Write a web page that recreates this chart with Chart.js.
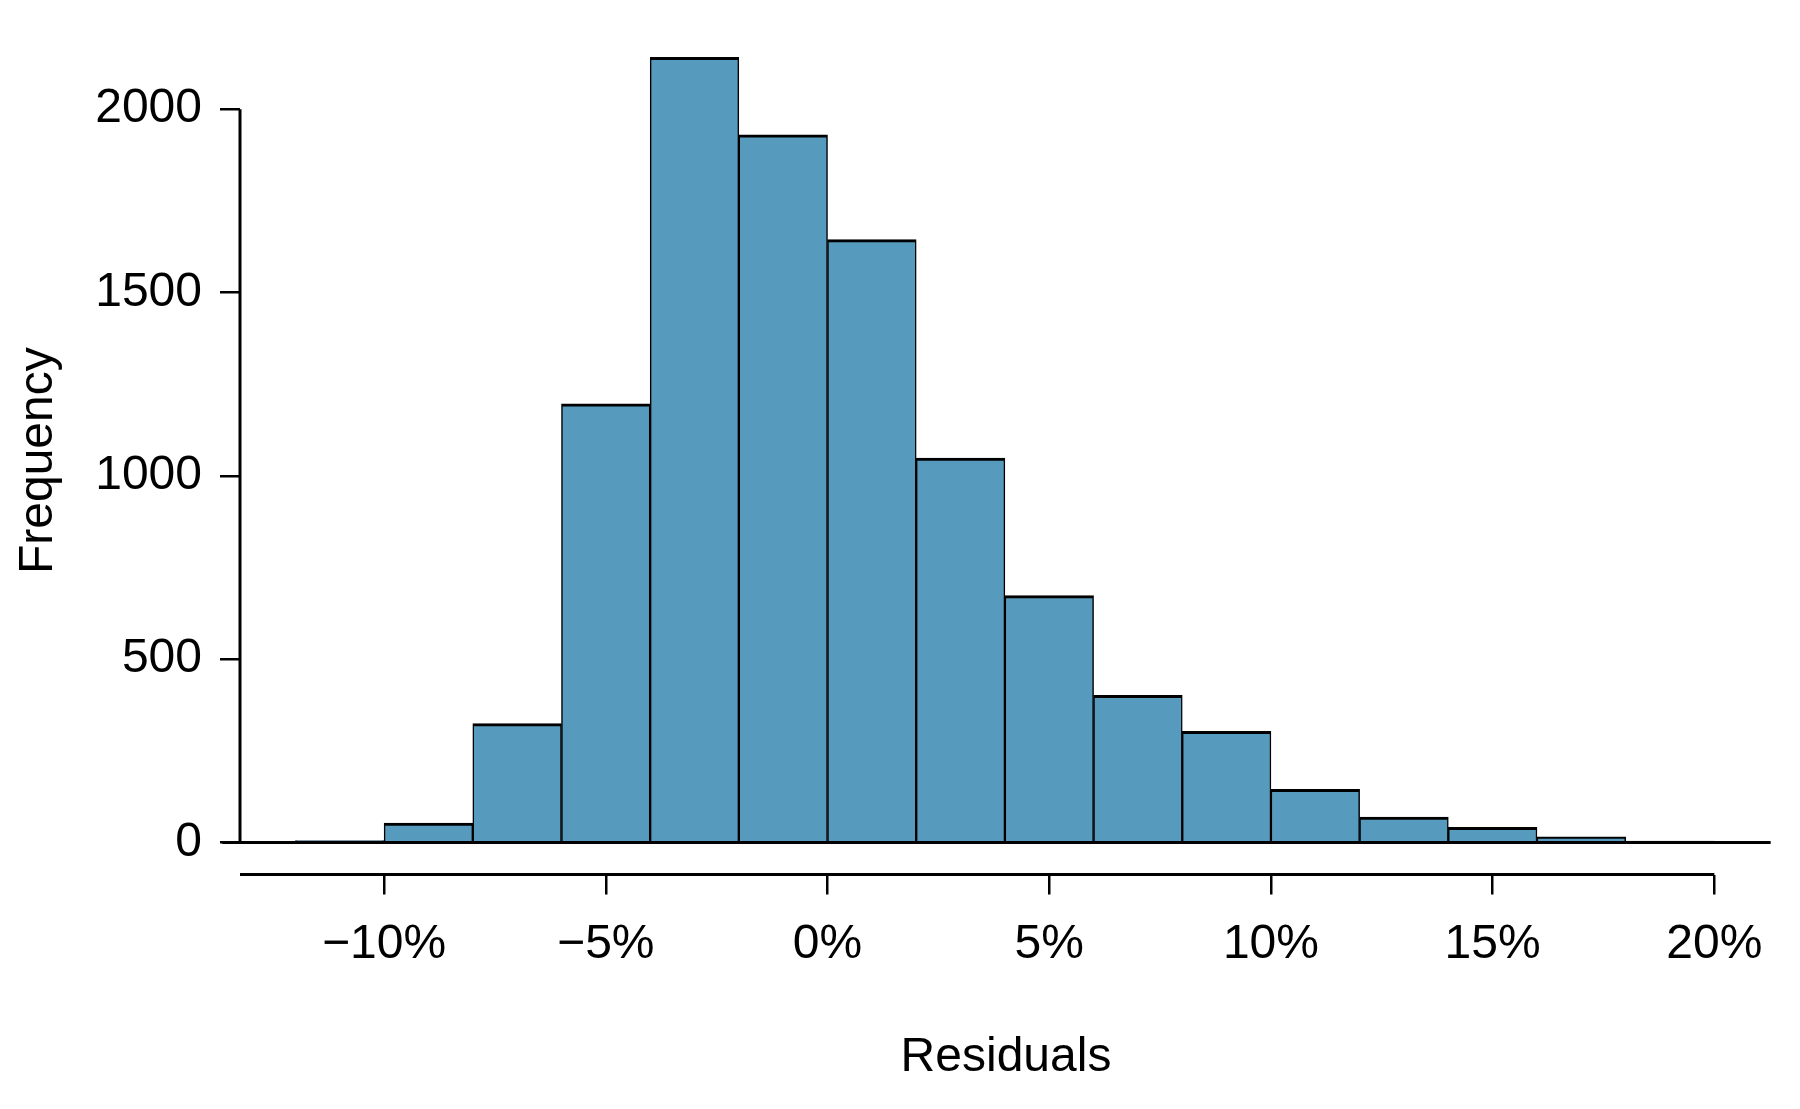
<!DOCTYPE html>
<html>
<head>
<meta charset="utf-8">
<script src="https://cdn.jsdelivr.net/npm/chart.js@4.4.0/dist/chart.umd.min.js"></script>
<style>
  html, body { margin: 0; padding: 0; background: #fff; }
  #wrap { width: 1800px; height: 1109px; }
</style>
</head>
<body>
<div id="wrap"><canvas id="histChart"></canvas></div>
<script>
// histogram bins: left edge of each bin (in %) and its count
var binStarts = [-12, -10, -8, -6, -4, -2, 0, 2, 4, 6, 8, 10, 12, 14, 16, 18];
var binCounts = [5, 53, 324, 1196, 2141, 1930, 1644, 1048, 673, 401, 303, 145, 69, 41, 15, 2];
var binWidth = 2;

var xTicks = [-10, -5, 0, 5, 10, 15, 20];
var xTickLabels = ['\u221210%', '\u22125%', '0%', '5%', '10%', '15%', '20%'];
var yTicks = [0, 500, 1000, 1500, 2000];

var xRange = [-13.25, 21.3];      // visible x range
var baseline = [-13.65, 21.27];   // extent of the zero line
var yRange = [-87.5, 2170];

var barColor = '#569BBD';
var fontFamily = '"Liberation Sans", Arial, Helvetica, sans-serif';

var histData = binStarts.map(function (s, i) {
  return { x: s + binWidth / 2, y: binCounts[i] };
});

// axis lines drawn R style: only between first and last tick
var axisLines = {
  id: 'axisLines',
  afterDraw: function (chart) {
    var c = chart.ctx, xs = chart.scales.x, ys = chart.scales.y;
    c.save();
    c.strokeStyle = '#000';
    c.lineWidth = 3;
    c.lineCap = 'butt';

    var y0 = ys.getPixelForValue(0);
    c.beginPath();
    c.moveTo(xs.getPixelForValue(baseline[0]), y0);
    c.lineTo(xs.getPixelForValue(baseline[1]), y0);
    c.stroke();

    var ax = xs.getPixelForValue(xRange[0]);
    c.beginPath();
    c.moveTo(ax, ys.getPixelForValue(yTicks[0]));
    c.lineTo(ax, ys.getPixelForValue(yTicks[yTicks.length - 1]));
    c.stroke();

    var ay = chart.chartArea.bottom;
    c.beginPath();
    c.moveTo(ax, ay);
    c.lineTo(xs.getPixelForValue(xTicks[xTicks.length - 1]), ay);
    c.stroke();
    c.restore();
  }
};

var ctx = document.getElementById('histChart').getContext('2d');
var histChart = new Chart(ctx, {
  type: 'bar',
  data: {
    datasets: [{
      label: 'Residuals',
      data: histData,
      backgroundColor: barColor,
      borderColor: '#000',
      borderWidth: { top: 3, left: 1.5, right: 1.5, bottom: 0 },
      borderSkipped: false,
      barPercentage: 1,
      categoryPercentage: 1
    }]
  },
  options: {
    responsive: true,
    maintainAspectRatio: false,
    animation: false,
    layout: { padding: { top: 40, right: 28, bottom: 0, left: 0 } },
    plugins: {
      legend: { display: false },
      tooltip: { enabled: false }
    },
    scales: {
      x: {
        type: 'linear',
        offset: false,
        min: xRange[0],
        max: xRange[1],
        border: { display: false },
        grid: {
          offset: false,
          drawOnChartArea: false,
          drawTicks: true,
          tickLength: 20,
          color: '#000',
          lineWidth: 2.5
        },
        afterBuildTicks: function (axis) {
          axis.ticks = xTicks.map(function (v) { return { value: v }; });
        },
        afterFit: function (axis) { axis.height = 234.5; },
        ticks: {
          color: '#000',
          padding: 21,
          maxRotation: 0,
          font: { family: fontFamily, size: 48 },
          callback: function (v) { return xTickLabels[xTicks.indexOf(v)]; }
        },
        title: {
          display: true,
          text: 'Residuals',
          color: '#000',
          padding: { top: 0, bottom: 22 },
          font: { family: fontFamily, size: 48 }
        }
      },
      y: {
        min: yRange[0],
        max: yRange[1],
        border: { display: false },
        grid: {
          drawOnChartArea: false,
          drawTicks: true,
          tickLength: 20,
          color: '#000',
          lineWidth: 2.5
        },
        afterBuildTicks: function (axis) {
          axis.ticks = yTicks.map(function (v) { return { value: v }; });
        },
        afterFit: function (axis) { axis.width = 240; },
        ticks: {
          color: '#000',
          padding: 18,
          font: { family: fontFamily, size: 48 },
          callback: function (v) { return String(v); }
        },
        title: {
          display: true,
          text: 'Frequency',
          color: '#000',
          padding: { top: 10, bottom: 0 },
          font: { family: fontFamily, size: 48 }
        }
      }
    }
  },
  plugins: [axisLines]
});
</script>
</body>
</html>
